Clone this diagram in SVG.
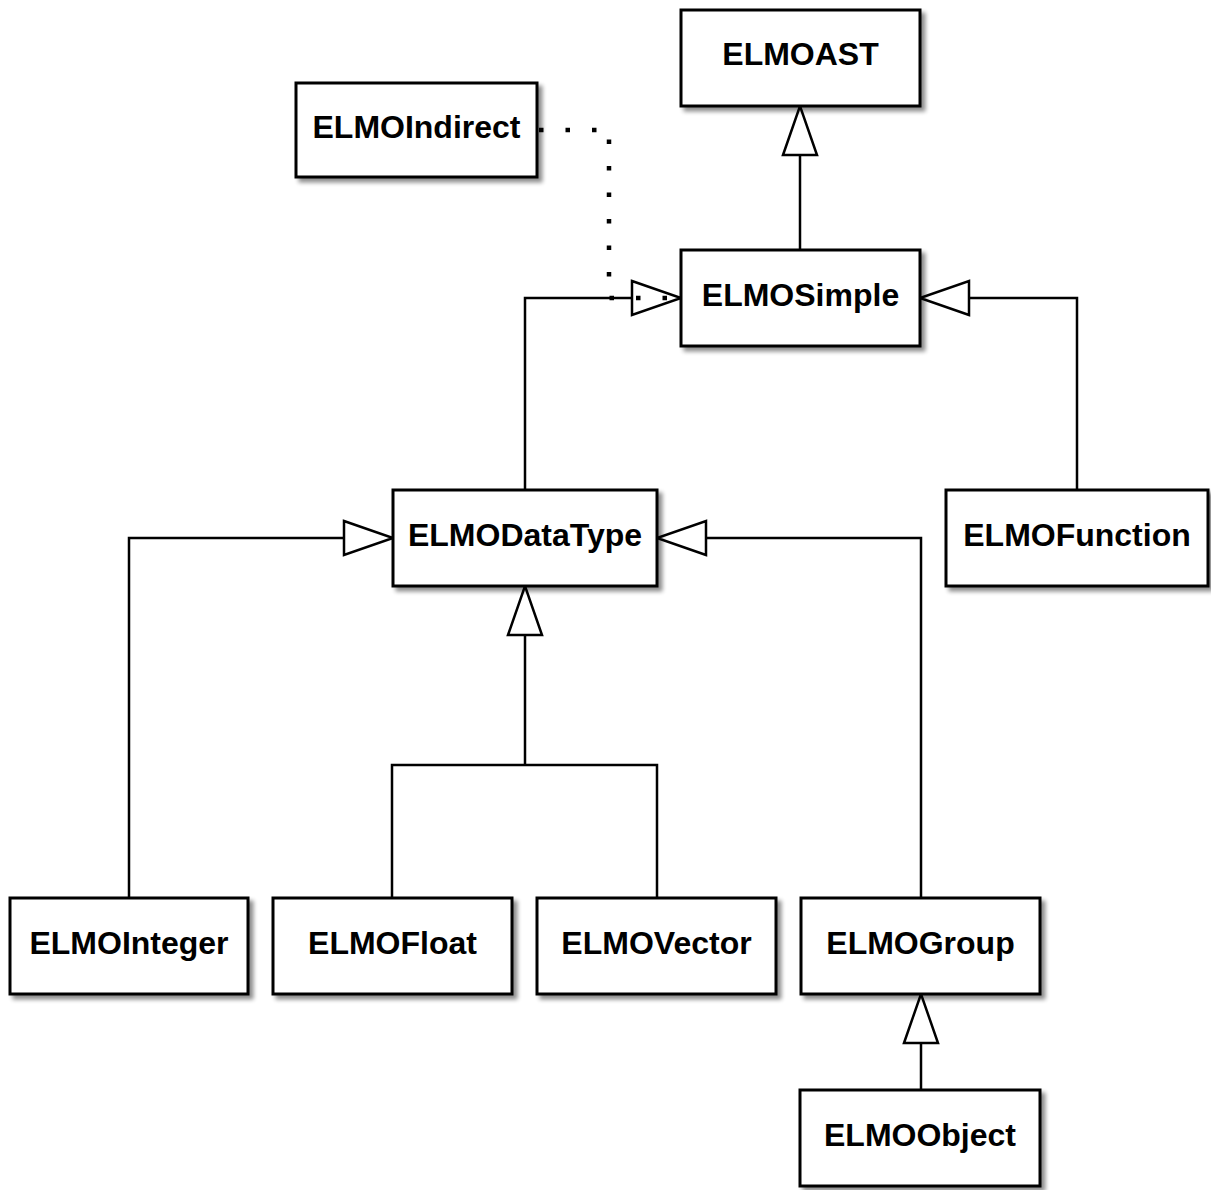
<svg xmlns="http://www.w3.org/2000/svg" width="1211" height="1190" viewBox="0 0 1211 1190">
<defs>
<filter id="sh" x="-10%" y="-10%" width="130%" height="130%">
<feGaussianBlur in="SourceAlpha" stdDeviation="2"/>
<feOffset dx="4" dy="4" result="b"/>
<feComponentTransfer><feFuncA type="linear" slope="0.45"/></feComponentTransfer>
<feMerge><feMergeNode/><feMergeNode in="SourceGraphic"/></feMerge>
</filter>
<marker id="tri" viewBox="0 0 50 36" refX="50" refY="18" markerWidth="50" markerHeight="36" markerUnits="userSpaceOnUse" orient="auto" overflow="visible">
<path d="M1,1 L50,18 L1,35 Z" fill="#fff" stroke="#000" stroke-width="2.5"/>
</marker>
</defs>
<style>
.box{fill:#fff;stroke:#000;stroke-width:3;filter:url(#sh)}
.lbl{font-family:"Liberation Sans",Arial,sans-serif;font-weight:bold;font-size:32px;text-anchor:middle;fill:#000}
.c{fill:none;stroke:#000;stroke-width:2.5}
.d{fill:none;stroke:#000;stroke-width:4.5;stroke-dasharray:4.5 22}
</style>
<rect width="1211" height="1190" fill="#fff"/>
<g id="connectors">
<path class="c" d="M800,250 L800,106" marker-end="url(#tri)"/>
<path class="c" d="M525,490 L525,298 L681,298" marker-end="url(#tri)"/>
<path class="c" d="M1077,490 L1077,298 L920,298" marker-end="url(#tri)"/>
<path class="c" d="M129,898 L129,538 L393,538" marker-end="url(#tri)"/>
<path class="c" d="M921,898 L921,538 L657,538" marker-end="url(#tri)"/>
<path class="c" d="M392,898 L392,765 L657,765 L657,898"/>
<path class="c" d="M525,765 L525,586" marker-end="url(#tri)"/>
<path class="c" d="M921,1090 L921,994" marker-end="url(#tri)"/>
<path class="d" d="M539,130 L609,130 L609,298 L681,298"/>
</g>
<g id="ELMOAST"><rect class="box" x="681" y="10" width="239" height="96"/><text class="lbl" x="800.5" y="65">ELMOAST</text></g>
<g id="ELMOIndirect"><rect class="box" x="296" y="83" width="241" height="94"/><text class="lbl" x="416.5" y="138">ELMOIndirect</text></g>
<g id="ELMOSimple"><rect class="box" x="681" y="250" width="239" height="96"/><text class="lbl" x="800.5" y="306">ELMOSimple</text></g>
<g id="ELMODataType"><rect class="box" x="393" y="490" width="264" height="96"/><text class="lbl" x="525" y="546">ELMODataType</text></g>
<g id="ELMOFunction"><rect class="box" x="946" y="490" width="262" height="96"/><text class="lbl" x="1077" y="546">ELMOFunction</text></g>
<g id="ELMOInteger"><rect class="box" x="10" y="898" width="238" height="96"/><text class="lbl" x="129" y="954">ELMOInteger</text></g>
<g id="ELMOFloat"><rect class="box" x="273" y="898" width="239" height="96"/><text class="lbl" x="392.5" y="954">ELMOFloat</text></g>
<g id="ELMOVector"><rect class="box" x="537" y="898" width="239" height="96"/><text class="lbl" x="656.5" y="954">ELMOVector</text></g>
<g id="ELMOGroup"><rect class="box" x="801" y="898" width="239" height="96"/><text class="lbl" x="920.5" y="954">ELMOGroup</text></g>
<g id="ELMOObject"><rect class="box" x="800" y="1090" width="240" height="96"/><text class="lbl" x="920" y="1146">ELMOObject</text></g>
</svg>
